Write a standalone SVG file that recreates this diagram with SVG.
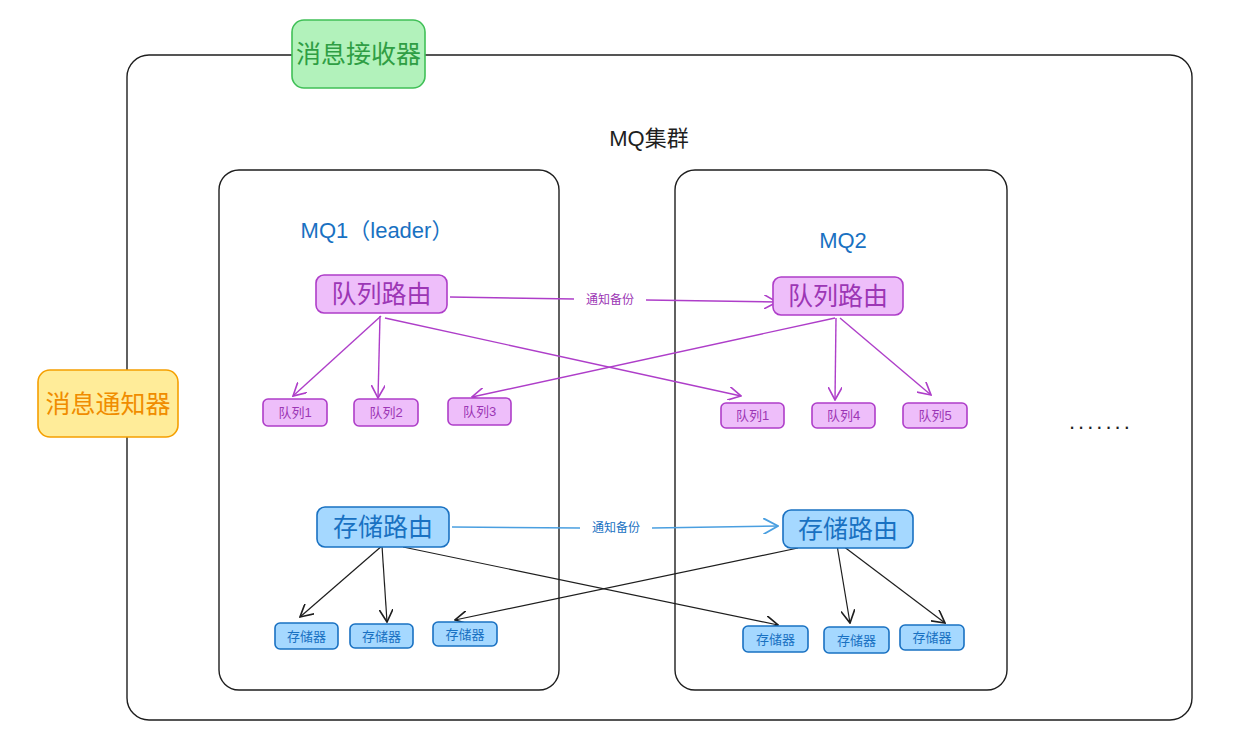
<svg xmlns="http://www.w3.org/2000/svg" width="1233" height="745" viewBox="0 0 1233 745">
<defs>
<style>
text{font-family:"Liberation Sans","Noto Sans CJK SC",sans-serif;text-anchor:middle;dominant-baseline:central}
.frame{fill:none;stroke:#1e1e1e;stroke-width:1.4}
.qr rect{fill:#eebefa;stroke:#ae3ec9;stroke-width:1.6}
.qr text{fill:#9c36b5}
.sr rect{fill:#a5d8ff;stroke:#1971c2;stroke-width:1.6}
.sr text{fill:#1971c2}
.pl{fill:none;stroke:#ae3ec9;stroke-width:1.4}
.bl{fill:none;stroke:#1e1e1e;stroke-width:1.2}
.bb{fill:none;stroke:#4a9fe0;stroke-width:1.6}
</style>
<marker id="ap" viewBox="0 0 12 12" refX="11" refY="6" markerWidth="14" markerHeight="14" markerUnits="userSpaceOnUse" orient="auto"><path d="M0,0 L11,6 L0,12" fill="none" stroke="#ae3ec9" stroke-width="1.4"/></marker>
<marker id="ak" viewBox="0 0 12 12" refX="11" refY="6" markerWidth="14" markerHeight="14" markerUnits="userSpaceOnUse" orient="auto"><path d="M0,0 L11,6 L0,12" fill="none" stroke="#1e1e1e" stroke-width="1.4"/></marker>
<marker id="ab" viewBox="0 0 12 12" refX="11" refY="6" markerWidth="16" markerHeight="16" markerUnits="userSpaceOnUse" orient="auto"><path d="M0,0 L11,6 L0,12" fill="none" stroke="#4a9fe0" stroke-width="1.4"/></marker>
</defs>
<rect width="1233" height="745" fill="#ffffff"/>

<g id="cluster">
<rect class="frame" x="127" y="55" width="1065" height="665" rx="22"/>
<text x="649" y="138" font-size="22" fill="#1e1e1e">MQ集群</text>
</g>

<g id="receiver">
<rect x="292" y="20" width="133" height="68" rx="12" fill="#b2f2bb" stroke="#40c057" stroke-width="1.6"/>
<text x="358.5" y="54" font-size="25" fill="#2f9e44">消息接收器</text>
</g>

<g id="notifier">
<rect x="38" y="370" width="140" height="67" rx="12" fill="#ffec99" stroke="#f59f00" stroke-width="1.6"/>
<text x="108" y="404" font-size="25" fill="#f08c00">消息通知器</text>
</g>

<g id="mq1">
<rect class="frame" x="219" y="170" width="340" height="520" rx="20"/>
<text x="377" y="230" font-size="22" fill="#1971c2">MQ1（leader）</text>
</g>

<g id="mq2">
<rect class="frame" x="675" y="170" width="332" height="520" rx="20"/>
<text x="843" y="240" font-size="22" fill="#1971c2">MQ2</text>
</g>

<g id="dots"><text x="1069" y="421" font-size="22" letter-spacing="3" style="text-anchor:start" fill="#1e1e1e">.......</text></g>

<g id="connectors">
<line class="pl" x1="450" y1="297" x2="574" y2="299"/>
<line class="pl" x1="646" y1="300" x2="777" y2="302" marker-end="url(#ap)"/>
<text x="610" y="300" font-size="12" fill="#9c36b5">通知备份</text>
<line class="pl" x1="381" y1="316" x2="293" y2="396" marker-end="url(#ap)"/>
<line class="pl" x1="380" y1="316" x2="378" y2="398" marker-end="url(#ap)"/>
<line class="pl" x1="385" y1="318" x2="741" y2="396" marker-end="url(#ap)"/>
<line class="pl" x1="835" y1="318" x2="472" y2="397" marker-end="url(#ap)"/>
<line class="pl" x1="836" y1="318" x2="835" y2="400" marker-end="url(#ap)"/>
<line class="pl" x1="840" y1="318" x2="931" y2="395" marker-end="url(#ap)"/>

<line class="bb" x1="452" y1="527" x2="580" y2="528"/>
<line class="bb" x1="652" y1="528" x2="778" y2="526" marker-end="url(#ab)"/>
<text x="616" y="528" font-size="12" fill="#1971c2">通知备份</text>
<line class="bl" x1="383" y1="545" x2="300" y2="617" marker-end="url(#ak)"/>
<line class="bl" x1="382" y1="546" x2="387" y2="622" marker-end="url(#ak)"/>
<line class="bl" x1="403" y1="547" x2="778" y2="625" marker-end="url(#ak)"/>
<line class="bl" x1="798" y1="548" x2="455" y2="620" marker-end="url(#ak)"/>
<line class="bl" x1="837" y1="545" x2="850" y2="623" marker-end="url(#ak)"/>
<line class="bl" x1="843" y1="546" x2="945" y2="623" marker-end="url(#ak)"/>
</g>

<g id="qrouter1" class="qr"><rect x="316" y="275" width="131" height="38" rx="8"/><text x="381.5" y="294" font-size="25">队列路由</text></g>
<g id="qrouter2" class="qr"><rect x="773" y="277" width="130" height="38" rx="8"/><text x="838" y="296" font-size="25">队列路由</text></g>

<g id="q1a" class="qr"><rect x="263" y="399" width="64" height="27" rx="5"/><text x="295" y="412.5" font-size="13">队列1</text></g>
<g id="q2" class="qr"><rect x="354" y="399" width="64" height="27" rx="5"/><text x="386" y="412.5" font-size="13">队列2</text></g>
<g id="q3" class="qr"><rect x="448" y="398" width="63" height="27" rx="5"/><text x="479.5" y="411.5" font-size="13">队列3</text></g>
<g id="q1b" class="qr"><rect x="721" y="403" width="63" height="25" rx="5"/><text x="752.5" y="415.5" font-size="13">队列1</text></g>
<g id="q4" class="qr"><rect x="812" y="403" width="63" height="25" rx="5"/><text x="843.5" y="415.5" font-size="13">队列4</text></g>
<g id="q5" class="qr"><rect x="903" y="403" width="64" height="25" rx="5"/><text x="935" y="415.5" font-size="13">队列5</text></g>

<g id="srouter1" class="sr"><rect x="317" y="507" width="132" height="40" rx="8"/><text x="383" y="527" font-size="25">存储路由</text></g>
<g id="srouter2" class="sr"><rect x="783" y="510" width="130" height="38" rx="8"/><text x="848" y="529" font-size="25">存储路由</text></g>

<g id="s1" class="sr"><rect x="275" y="623" width="63" height="26" rx="5"/><text x="306.5" y="636" font-size="13">存储器</text></g>
<g id="s2" class="sr"><rect x="350" y="624" width="63" height="24" rx="5"/><text x="381.5" y="636" font-size="13">存储器</text></g>
<g id="s3" class="sr"><rect x="433" y="622" width="64" height="24" rx="5"/><text x="465" y="634" font-size="13">存储器</text></g>
<g id="s4" class="sr"><rect x="743" y="626" width="65" height="26" rx="5"/><text x="775.5" y="639" font-size="13">存储器</text></g>
<g id="s5" class="sr"><rect x="824" y="627" width="65" height="26" rx="5"/><text x="856.5" y="640" font-size="13">存储器</text></g>
<g id="s6" class="sr"><rect x="900" y="625" width="64" height="25" rx="5"/><text x="932" y="637.5" font-size="13">存储器</text></g>
</svg>
